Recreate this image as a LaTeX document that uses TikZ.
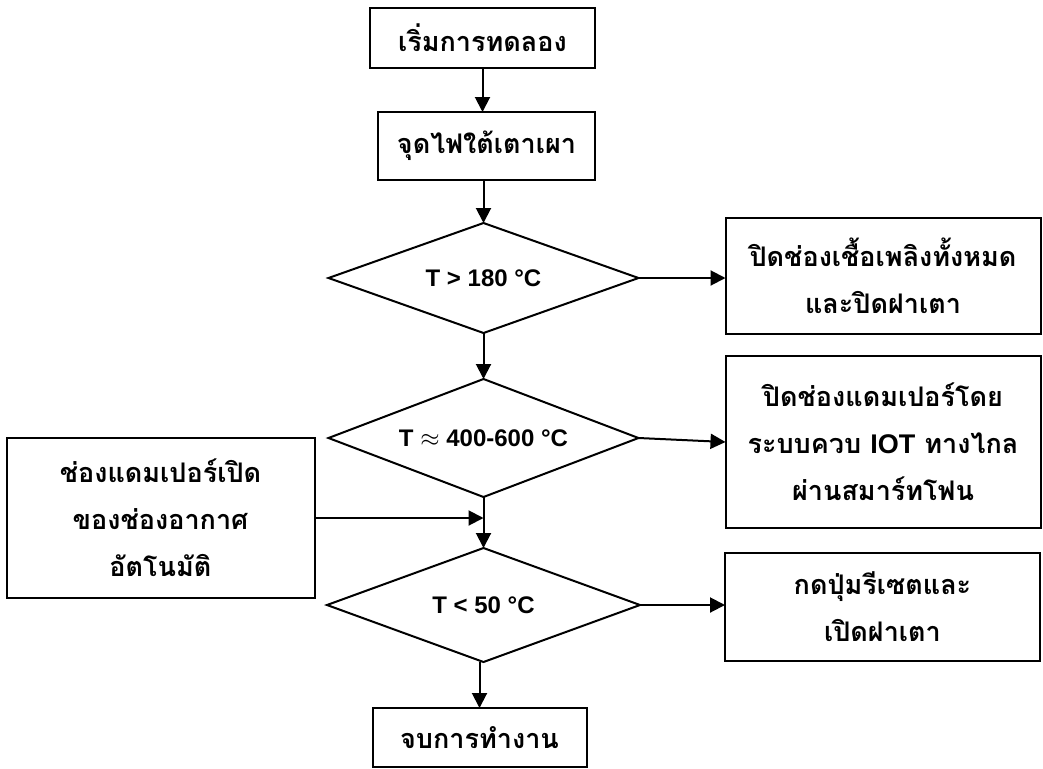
\documentclass[tikz,border=0pt]{standalone}
\usepackage{fontspec}
\setmainfont{Liberation Sans}
\newfontfamily\thaifont[Script=Thai]{Loma}
\usetikzlibrary{arrows.meta,positioning,shapes.geometric}

\begin{document}
\begin{tikzpicture}[
  box/.style={draw,line width=2pt,align=center,inner sep=0pt,outer sep=0pt,
              font=\thaifont\bfseries\fontsize{27}{47}\selectfont},
  cond/.style={draw,diamond,line width=2pt,inner sep=0pt,outer sep=0pt,aspect=2.8,
               minimum width=310pt,font=\bfseries\fontsize{24}{28}\selectfont},
  ar/.style={-{Triangle[length=15pt,width=15pt]},line width=2pt}]
\useasboundingbox (0,0) rectangle (1043pt,-768pt);
\node[box,minimum width=225pt,minimum height=60pt] (start) at (482.5pt,-38pt) {เริ่มการทดลอง};
\node[box,minimum width=217pt,minimum height=68pt,below=44pt of start,xshift=4pt] (fire) {จุดไฟใต้เตาเผา};
\node[cond,minimum height=110pt,below=43pt of fire,xshift=-3pt] (d1) {T > 180 °C};
\node[cond,minimum height=118pt,below=46pt of d1] (d2) {T {\fontsize{32}{28}\selectfont$\approx$} 400-600 °C};
\node[cond,minimum height=114pt,minimum width=313pt,below=51pt of d2] (d3) {T < 50 °C};
\node[box,minimum width=214pt,minimum height=59pt,below=46pt of d3,xshift=-4pt] (stop) {จบการทำงาน};
\node[box,minimum width=315pt,minimum height=116pt,right=87pt of d1,yshift=2pt] (lid) {ปิดช่องเชื้อเพลิงทั้งหมด\\และปิดฝาเตา};
\node[box,minimum width=315pt,minimum height=172pt,right=87pt of d2,yshift=-4pt] (iot) {ปิดช่องแดมเปอร์โดย\\ระบบควบ {\rmfamily IOT} ทางไกล\\ผ่านสมาร์ทโฟน};
\node[box,minimum width=315pt,minimum height=108pt,right=85pt of d3,yshift=-2pt] (reset) {กดปุ่มรีเซตและ\\เปิดฝาเตา};
\node[box,minimum width=308pt,minimum height=160pt,anchor=north east] (damper) at ([xshift=-14pt]d2.west) {ช่องแดมเปอร์เปิด\\ของช่องอากาศ\\อัตโนมัติ};
\draw[ar] (start.south) -- (start.south |- fire.north);
\draw[ar] (fire.south -| d1.north) -- (d1.north);
\draw[ar] (d1) -- (d2);
\draw[ar] (d2) -- (d3);
\draw[ar] (stop.north |- d3.south) -- (stop.north);
\draw[ar] (d1.east) -- (d1.east -| lid.west);
\draw[ar] (d2.east) -- (iot.west);
\draw[ar] (d3.east) -- (d3.east -| reset.west);
\draw[ar] (damper.east) -- (damper.east -| d2.south);
\end{tikzpicture}
\end{document}
